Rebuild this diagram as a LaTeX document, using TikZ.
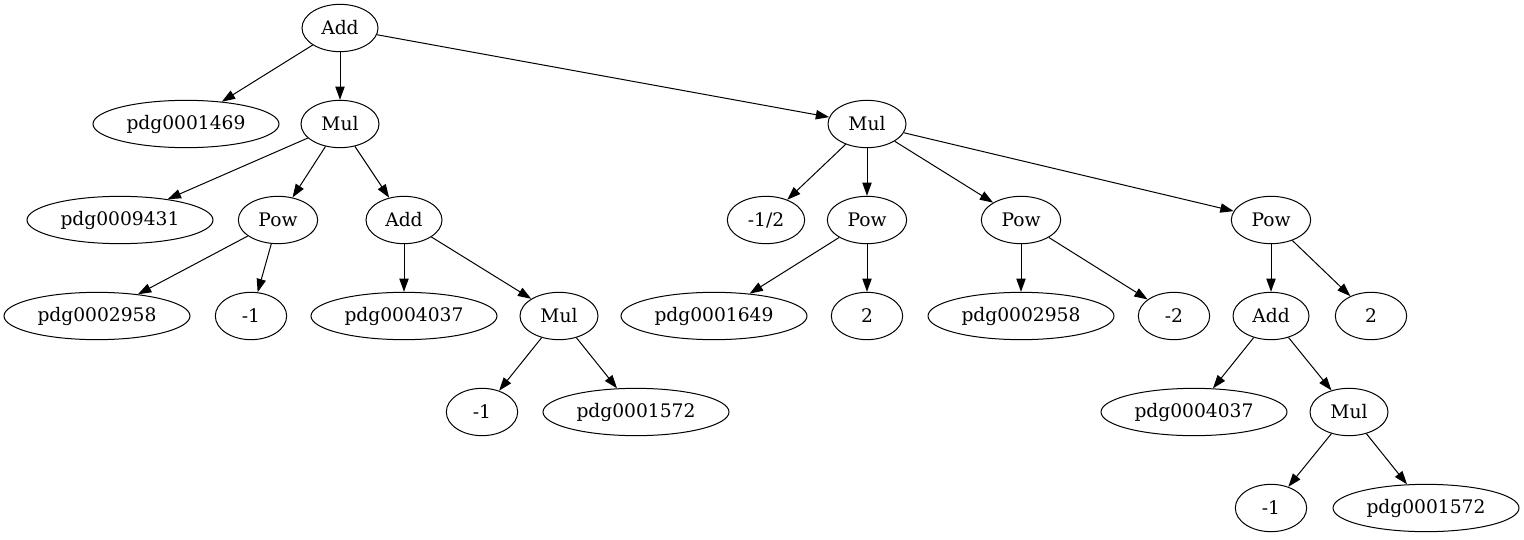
\documentclass[tikz,border=0pt]{standalone}
\usepackage{fontspec}
\setmainfont{DejaVu Serif}
\usetikzlibrary{shapes.geometric,arrows.meta}
\begin{document}
\begin{tikzpicture}[x=0.75pt,y=-0.75pt,
  nd/.style={ellipse,draw,line width=0.75pt,inner sep=0pt,minimum height=35.5pt,font=\fontsize{14}{16}\selectfont},
  lng/.style={nd,minimum width=139.5pt},
  addn/.style={nd,minimum width=57pt},
  muln/.style={nd,minimum width=58.5pt},
  pw/.style={nd,minimum width=59.5pt},
  frac/.style={nd,minimum width=58pt},
  num/.style={nd,minimum width=53.5pt},
  edge/.style={line width=0.75pt,-{Triangle[length=10pt,width=7pt]}}]
\useasboundingbox (0,0) rectangle (1524,539);
% row 0
\node[addn] (add0) at (340,28) {Add};
% row 1
\node[lng] (p1469) at (186,124) {pdg0001469};
\node[muln] (mul1) at (340,124) {Mul};
\node[muln] (mul2) at (867,124) {Mul};
% row 2
\node[lng] (p9431) at (120,220) {pdg0009431};
\node[pw] (pow1) at (278,220) {Pow};
\node[addn] (add1) at (404,220) {Add};
\node[frac] (half) at (766,220) {-1/2};
\node[pw] (pow2) at (867,220) {Pow};
\node[pw] (pow3) at (1021,220) {Pow};
\node[pw] (pow4) at (1271,220) {Pow};
% row 3
\node[lng] (p2958a) at (97,316) {pdg0002958};
\node[num] (m1a) at (251,316) {-1};
\node[lng] (p4037a) at (404,316) {pdg0004037};
\node[muln] (mul3) at (559,316) {Mul};
\node[lng] (p1649) at (714,316) {pdg0001649};
\node[num] (two1) at (867,316) {2};
\node[lng] (p2958b) at (1021,316) {pdg0002958};
\node[num] (m2) at (1174,316) {-2};
\node[addn] (add2) at (1271,316) {Add};
\node[num] (two2) at (1371,316) {2};
% row 4
\node[num] (m1b) at (482,412) {-1};
\node[lng] (p1572a) at (636,412) {pdg0001572};
\node[lng] (p4037b) at (1194,412) {pdg0004037};
\node[muln] (mul4) at (1349,412) {Mul};
% row 5
\node[num] (m1c) at (1271,508) {-1};
\node[lng] (p1572b) at (1426,508) {pdg0001572};
% edges
\draw[edge] (add0) -- (p1469);
\draw[edge] (add0) -- (mul1);
\draw[edge] (add0) -- (mul2);
\draw[edge] (mul1) -- (p9431);
\draw[edge] (mul1) -- (pow1);
\draw[edge] (mul1) -- (add1);
\draw[edge] (pow1) -- (p2958a);
\draw[edge] (pow1) -- (m1a);
\draw[edge] (add1) -- (p4037a);
\draw[edge] (add1) -- (mul3);
\draw[edge] (mul3) -- (m1b);
\draw[edge] (mul3) -- (p1572a);
\draw[edge] (mul2) -- (half);
\draw[edge] (mul2) -- (pow2);
\draw[edge] (mul2) -- (pow3);
\draw[edge] (mul2) -- (pow4);
\draw[edge] (pow2) -- (p1649);
\draw[edge] (pow2) -- (two1);
\draw[edge] (pow3) -- (p2958b);
\draw[edge] (pow3) -- (m2);
\draw[edge] (pow4) -- (add2);
\draw[edge] (pow4) -- (two2);
\draw[edge] (add2) -- (p4037b);
\draw[edge] (add2) -- (mul4);
\draw[edge] (mul4) -- (m1c);
\draw[edge] (mul4) -- (p1572b);
\end{tikzpicture}
\end{document}
